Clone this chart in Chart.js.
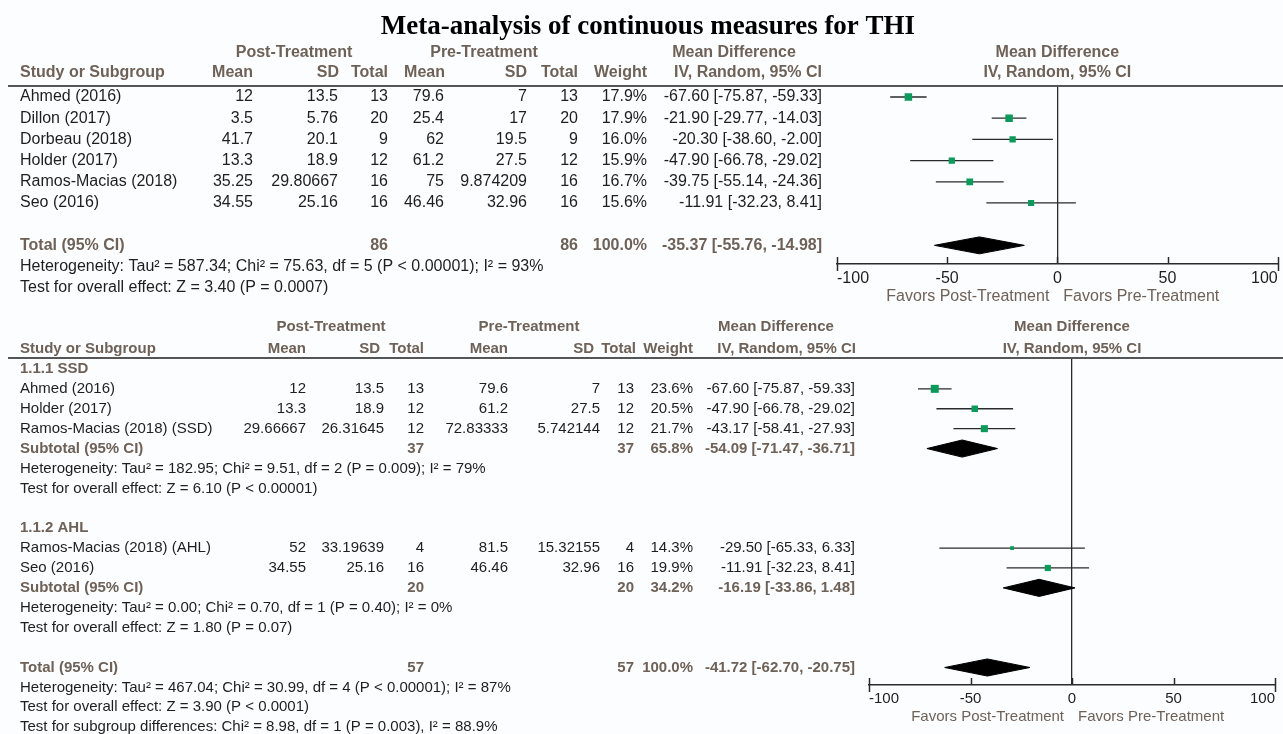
<!DOCTYPE html>
<html>
<head>
<meta charset="utf-8">
<title>Meta-analysis of continuous measures for THI</title>
<script src="https://cdn.jsdelivr.net/npm/chart.js@4.4.1/dist/chart.umd.min.js"></script>
<style>
  html, body { margin: 0; padding: 0; background: #fcfdfe; }
  #page { position: relative; width: 1283px; height: 734px; overflow: hidden; }
  canvas { position: absolute; left: 0; }
</style>
</head>
<body>
<div id="page">
  <canvas id="top-plot" width="1283" height="310" style="top:0"></canvas>
  <canvas id="bottom-plot" width="1283" height="424" style="top:310px"></canvas>
</div>
<script>
const chartTitle = 'Meta-analysis of continuous measures for THI';
const axisTicks = [-100, -50, 0, 50, 100];
const favorLabels = ['Favors Post-Treatment', 'Favors Pre-Treatment'];

// top panel: all studies pooled
const studies = ['Ahmed (2016)', 'Dillon (2017)', 'Dorbeau (2018)', 'Holder (2017)', 'Ramos-Macias (2018)', 'Seo (2016)'];
const postMean = [12, 3.5, 41.7, 13.3, 35.25, 34.55];
const postSD = [13.5, 5.76, 20.1, 18.9, 29.80667, 25.16];
const postN = [13, 20, 9, 12, 16, 16];
const preMean = [79.6, 25.4, 62, 61.2, 75, 46.46];
const preSD = [7, 17, 19.5, 27.5, 9.874209, 32.96];
const preN = [13, 20, 9, 12, 16, 16];
const weights = [17.9, 17.9, 16.0, 15.9, 16.7, 15.6];
const meanDiff = [-67.60, -21.90, -20.30, -47.90, -39.75, -11.91];
const ciLow = [-75.87, -29.77, -38.60, -66.78, -55.14, -32.23];
const ciHigh = [-59.33, -14.03, -2.00, -29.02, -24.36, 8.41];
const totalN = [86, 86];
const pooled = [-35.37, -55.76, -14.98]; // estimate, low, high
const topHet = 'Heterogeneity: Tau² = 587.34; Chi² = 75.63, df = 5 (P < 0.00001); I² = 93%';
const topTest = 'Test for overall effect: Z = 3.40 (P = 0.0007)';

// bottom panel: SSD / AHL subgroups
const subStudies = ['Ahmed (2016)', 'Holder (2017)', 'Ramos-Macias (2018) (SSD)', 'Ramos-Macias (2018) (AHL)', 'Seo (2016)'];
const subGroupOf = [0, 0, 0, 1, 1];
const subPostMean = [12, 13.3, 29.66667, 52, 34.55];
const subPostSD = [13.5, 18.9, 26.31645, 33.19639, 25.16];
const subPostN = [13, 12, 12, 4, 16];
const subPreMean = [79.6, 61.2, 72.83333, 81.5, 46.46];
const subPreSD = [7, 27.5, 5.742144, 15.32155, 32.96];
const subPreN = [13, 12, 12, 4, 16];
const subWeights = [23.6, 20.5, 21.7, 14.3, 19.9];
const subMeanDiff = [-67.60, -47.90, -43.17, -29.50, -11.91];
const subCiLow = [-75.87, -66.78, -58.41, -65.33, -32.23];
const subCiHigh = [-59.33, -29.02, -27.93, 6.33, 8.41];
const subgroupNames = ['1.1.1 SSD', '1.1.2 AHL'];
const subgroupN = [37, 20];
const subgroupWeight = [65.8, 34.2];
const subgroupEst = [-54.09, -16.19];
const subgroupLow = [-71.47, -33.86];
const subgroupHigh = [-36.71, 1.48];
const subgroupHet = [
  'Heterogeneity: Tau² = 182.95; Chi² = 9.51, df = 2 (P = 0.009); I² = 79%',
  'Heterogeneity: Tau² = 0.00; Chi² = 0.70, df = 1 (P = 0.40); I² = 0%'
];
const subgroupTest = ['Test for overall effect: Z = 6.10 (P < 0.00001)', 'Test for overall effect: Z = 1.80 (P = 0.07)'];
const overallN = [57, 57];
const overall = [-41.72, -62.70, -20.75];
const overallHet = 'Heterogeneity: Tau² = 467.04; Chi² = 30.99, df = 4 (P < 0.00001); I² = 87%';
const overallTest = 'Test for overall effect: Z = 3.90 (P < 0.0001)';
const subgroupDiff = 'Test for subgroup differences: Chi² = 8.98, df = 1 (P = 0.003), I² = 88.9%';

const FONT = "'Liberation Sans', Arial, Helvetica, sans-serif";
const HEAD = '#6e6157';
const INK = '#1e1e1e';
const LINE = '#2a2a2a';
const GREEN = '#0b9a5b';

const pct = w => w.toFixed(1) + '%';
const ci = (m, lo, hi) => `${m.toFixed(2)} [${lo.toFixed(2)}, ${hi.toFixed(2)}]`;

function put(ctx, s, x, y, align, size, bold, color) {
  ctx.font = (bold ? 'bold ' : '') + size + 'px ' + FONT;
  ctx.fillStyle = color || INK;
  ctx.textAlign = align;
  ctx.textBaseline = 'middle';
  ctx.fillText(s, x, y);
}

// square side grows with weight, largest study gets maxSide
function squareRadius(w, maxW, maxSide) {
  const side = maxSide * Math.pow(w / maxW, 1.5);
  return side / 2 / Math.SQRT1_2;
}

function forestDatasets(est, lo, hi, rows, radii, diamonds, halfH) {
  const sets = [{
    data: est.map((m, i) => ({ x: m, y: rows[i] })),
    pointStyle: 'rect', pointRadius: radii, pointBackgroundColor: GREEN,
    pointBorderWidth: 0, showLine: false, order: 0
  }];
  est.forEach((m, i) => sets.push({
    data: [{ x: lo[i], y: rows[i] }, { x: hi[i], y: rows[i] }],
    showLine: true, borderColor: LINE, borderWidth: 1.3, pointRadius: 0, order: 2
  }));
  diamonds.forEach(d => sets.push({
    data: [{ x: d.lo, y: d.row }, { x: d.est, y: d.row - halfH }, { x: d.hi, y: d.row },
           { x: d.est, y: d.row + halfH }, { x: d.lo, y: d.row }],
    showLine: true, fill: 'shape', borderColor: '#000', borderWidth: 1,
    backgroundColor: '#000', pointRadius: 0, order: 1
  }));
  return sets;
}

// axis ticks pointing up, end ticks crossing the axis
function drawAxisTicks(chart) {
  const { ctx, scales: { x }, chartArea } = chart;
  const yA = chartArea.bottom;
  ctx.save();
  ctx.strokeStyle = LINE;
  ctx.lineWidth = 1.5;
  axisTicks.forEach((v, i) => {
    const px = Math.round(x.getPixelForValue(v)) + 0.5;
    const end = i === 0 || i === axisTicks.length - 1;
    ctx.beginPath();
    ctx.moveTo(px, yA - 7);
    ctx.lineTo(px, end ? yA + 7 : yA);
    ctx.stroke();
  });
  ctx.restore();
}

function drawFavors(chart, y, size) {
  const x0 = chart.scales.x.getPixelForValue(0);
  put(chart.ctx, favorLabels[0], x0 - 8, y, 'right', size, false, HEAD);
  put(chart.ctx, favorLabels[1], x0 + 6, y, 'left', size, false, HEAD);
}

function drawRule(chart) {
  const { ctx, chartArea } = chart;
  ctx.save();
  ctx.strokeStyle = '#555';
  ctx.lineWidth = 2;
  ctx.beginPath();
  ctx.moveTo(8, chartArea.top);
  ctx.lineTo(1283, chartArea.top);
  ctx.stroke();
  ctx.restore();
}

function forestChart(id, cfg) {
  return new Chart(document.getElementById(id), {
    type: 'scatter',
    data: { datasets: cfg.datasets },
    options: {
      responsive: false, animation: false, devicePixelRatio: 1,
      layout: { padding: { left: cfg.left, right: cfg.right, top: cfg.top, bottom: 0 } },
      plugins: { legend: { display: false }, tooltip: { enabled: false } },
      scales: {
        x: {
          type: 'linear', min: -100, max: 100,
          afterBuildTicks: s => { s.ticks = axisTicks.map(v => ({ value: v })); },
          afterFit: s => { s.height = cfg.axisH; },
          ticks: { align: 'inner', padding: cfg.tickPad, color: INK, maxRotation: 0,
                   font: { family: FONT, size: cfg.size } },
          grid: { drawTicks: false, lineWidth: 1.3,
                  color: c => (c.tick && c.tick.value === 0 ? LINE : 'rgba(0,0,0,0)') },
          border: { display: true, color: LINE, width: 1.5 }
        },
        y: { type: 'linear', display: false, reverse: true, min: cfg.rowMin, max: cfg.rowMax }
      }
    },
    plugins: [cfg.plugin]
  });
}

// ---------- top panel ----------
const topRows = studies.map((s, i) => i);
const topTotalRow = studies.length + 1;
const topMaxW = Math.max(...weights);

const topTable = {
  id: 'topTable',
  afterDraw(chart) {
    const { ctx, scales: { x, y } } = chart;
    const Y = r => y.getPixelForValue(r);
    const S = 16;
    ctx.save();
    ctx.font = "bold 27px 'Liberation Serif', 'Times New Roman', serif";
    ctx.fillStyle = '#000';
    ctx.textAlign = 'center';
    ctx.textBaseline = 'alphabetic';
    ctx.fillText(chartTitle, 648, 34);

    const h1 = Y(-2.12), h2 = Y(-1.13);
    put(ctx, 'Post-Treatment', 294, h1, 'center', S, true, HEAD);
    put(ctx, 'Pre-Treatment', 484, h1, 'center', S, true, HEAD);
    put(ctx, 'Mean Difference', 734, h1, 'center', S, true, HEAD);
    put(ctx, 'Mean Difference', x.getPixelForValue(0), h1, 'center', S, true, HEAD);
    put(ctx, 'Study or Subgroup', 20, h2, 'left', S, true, HEAD);
    [['Mean', 253], ['SD', 339], ['Total', 388], ['Mean', 445], ['SD', 527], ['Total', 578],
     ['Weight', 647], ['IV, Random, 95% CI', 822]].forEach(([t, px]) => put(ctx, t, px, h2, 'right', S, true, HEAD));
    put(ctx, 'IV, Random, 95% CI', x.getPixelForValue(0), h2, 'center', S, true, HEAD);
    drawRule(chart);

    studies.forEach((name, i) => {
      const yy = Y(topRows[i]);
      put(ctx, name, 20, yy, 'left', S);
      put(ctx, String(postMean[i]), 253, yy, 'right', S);
      put(ctx, String(postSD[i]), 338, yy, 'right', S);
      put(ctx, String(postN[i]), 388, yy, 'right', S);
      put(ctx, String(preMean[i]), 444, yy, 'right', S);
      put(ctx, String(preSD[i]), 527, yy, 'right', S);
      put(ctx, String(preN[i]), 578, yy, 'right', S);
      put(ctx, pct(weights[i]), 647, yy, 'right', S);
      put(ctx, ci(meanDiff[i], ciLow[i], ciHigh[i]), 822, yy, 'right', S);
    });
    const ty = Y(topTotalRow);
    put(ctx, 'Total (95% CI)', 20, ty, 'left', S, true, HEAD);
    put(ctx, String(totalN[0]), 388, ty, 'right', S, true, HEAD);
    put(ctx, String(totalN[1]), 578, ty, 'right', S, true, HEAD);
    put(ctx, pct(100), 647, ty, 'right', S, true, HEAD);
    put(ctx, ci(pooled[0], pooled[1], pooled[2]), 822, ty, 'right', S, true, HEAD);
    put(ctx, topHet, 20, Y(topTotalRow + 1), 'left', S);
    put(ctx, topTest, 20, Y(topTotalRow + 2), 'left', S);

    drawAxisTicks(chart);
    drawFavors(chart, 297, S);
    ctx.restore();
  }
};

forestChart('top-plot', {
  left: 837, right: 5, top: 86, axisH: 46, tickPad: 5, size: 16,
  rowMin: -0.52, rowMax: 7.88,
  datasets: forestDatasets(meanDiff, ciLow, ciHigh, topRows,
    weights.map(w => squareRadius(w, topMaxW, 7.5)),
    [{ est: pooled[0], lo: pooled[1], hi: pooled[2], row: topTotalRow }], 0.4),
  plugin: topTable
});

// ---------- bottom panel ----------
const bottomRows = [];
const groupRows = [];
let row = 0;
subgroupNames.forEach((g, gi) => {
  const head = row++;
  subStudies.forEach((s, i) => { if (subGroupOf[i] === gi) bottomRows[i] = row++; });
  const sub = row++;
  const het = row++;
  const test = row++;
  row++;
  groupRows.push({ head, sub, het, test });
});
const overallRow = row;
const subMaxW = Math.max(...subWeights);

const bottomTable = {
  id: 'bottomTable',
  afterDraw(chart) {
    const { ctx, scales: { x, y } } = chart;
    const Y = r => y.getPixelForValue(r);
    const S = 15;
    ctx.save();
    const h1 = Y(-2.1), h2 = Y(-1);
    put(ctx, 'Post-Treatment', 331, h1, 'center', S, true, HEAD);
    put(ctx, 'Pre-Treatment', 529, h1, 'center', S, true, HEAD);
    put(ctx, 'Mean Difference', 776, h1, 'center', S, true, HEAD);
    put(ctx, 'Mean Difference', x.getPixelForValue(0), h1, 'center', S, true, HEAD);
    put(ctx, 'Study or Subgroup', 20, h2, 'left', S, true, HEAD);
    [['Mean', 306], ['SD', 380], ['Total', 424], ['Mean', 508], ['SD', 594], ['Total', 636],
     ['Weight', 693], ['IV, Random, 95% CI', 856]].forEach(([t, px]) => put(ctx, t, px, h2, 'right', S, true, HEAD));
    put(ctx, 'IV, Random, 95% CI', x.getPixelForValue(0), h2, 'center', S, true, HEAD);
    drawRule(chart);

    subStudies.forEach((name, i) => {
      const yy = Y(bottomRows[i]);
      put(ctx, name, 20, yy, 'left', S);
      put(ctx, String(subPostMean[i]), 306, yy, 'right', S);
      put(ctx, String(subPostSD[i]), 384, yy, 'right', S);
      put(ctx, String(subPostN[i]), 424, yy, 'right', S);
      put(ctx, String(subPreMean[i]), 508, yy, 'right', S);
      put(ctx, String(subPreSD[i]), 600, yy, 'right', S);
      put(ctx, String(subPreN[i]), 634, yy, 'right', S);
      put(ctx, pct(subWeights[i]), 693, yy, 'right', S);
      put(ctx, ci(subMeanDiff[i], subCiLow[i], subCiHigh[i]), 855, yy, 'right', S);
    });
    groupRows.forEach((g, gi) => {
      put(ctx, subgroupNames[gi], 20, Y(g.head), 'left', S, true, HEAD);
      const sy = Y(g.sub);
      put(ctx, 'Subtotal (95% CI)', 20, sy, 'left', S, true, HEAD);
      put(ctx, String(subgroupN[gi]), 424, sy, 'right', S, true, HEAD);
      put(ctx, String(subgroupN[gi]), 634, sy, 'right', S, true, HEAD);
      put(ctx, pct(subgroupWeight[gi]), 693, sy, 'right', S, true, HEAD);
      put(ctx, ci(subgroupEst[gi], subgroupLow[gi], subgroupHigh[gi]), 855, sy, 'right', S, true, HEAD);
      put(ctx, subgroupHet[gi], 20, Y(g.het), 'left', S);
      put(ctx, subgroupTest[gi], 20, Y(g.test), 'left', S);
    });
    const ty = Y(overallRow);
    put(ctx, 'Total (95% CI)', 20, ty, 'left', S, true, HEAD);
    put(ctx, String(overallN[0]), 424, ty, 'right', S, true, HEAD);
    put(ctx, String(overallN[1]), 634, ty, 'right', S, true, HEAD);
    put(ctx, pct(100), 693, ty, 'right', S, true, HEAD);
    put(ctx, ci(overall[0], overall[1], overall[2]), 855, ty, 'right', S, true, HEAD);
    put(ctx, overallHet, 20, Y(overallRow + 1), 'left', S);
    put(ctx, overallTest, 20, Y(overallRow + 2), 'left', S);
    put(ctx, subgroupDiff, 20, Y(overallRow + 3), 'left', S);

    drawAxisTicks(chart);
    drawFavors(chart, 407, S);
    ctx.restore();
  }
};

const bottomDiamonds = subgroupNames.map((g, gi) => ({
  est: subgroupEst[gi], lo: subgroupLow[gi], hi: subgroupHigh[gi], row: groupRows[gi].sub
}));
bottomDiamonds.push({ est: overall[0], lo: overall[1], hi: overall[2], row: overallRow });

forestChart('bottom-plot', {
  left: 869, right: 8, top: 48, axisH: 49, tickPad: 5, size: 15,
  rowMin: -0.55, rowMax: 15.88,
  datasets: forestDatasets(subMeanDiff, subCiLow, subCiHigh, bottomRows,
    subWeights.map(w => squareRadius(w, subMaxW, 8)), bottomDiamonds, 0.43),
  plugin: bottomTable
});
</script>
</body>
</html>
